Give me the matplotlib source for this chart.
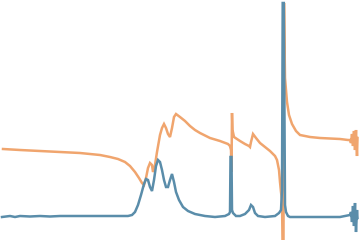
import numpy as np
import matplotlib
matplotlib.use('Agg')
from matplotlib import pyplot as plt

# orange curve (real-part-like), x position and height
re_x = [3, 20, 40, 60, 80, 100, 110, 118, 125, 130, 135, 139, 142, 144, 146,
        148, 150, 152, 153, 155, 157, 160, 162, 164, 166, 168, 170, 172, 174,
        176, 180, 185, 190, 195, 200, 210, 220, 228, 230, 231, 231.5, 232,
        232.5, 234, 240, 245, 249, 250, 251, 253, 256, 260, 265, 270, 275,
        277, 279, 280, 281, 282, 282.5, 283.5, 284, 285, 287, 289, 292, 296,
        300, 310, 320, 340, 348, 350, 351, 352, 353, 354, 355, 356, 357, 357.5]
re_y = [91, 90, 89, 88, 87, 85, 83, 81, 78, 74, 68, 62, 57, 55, 62,
        72, 77, 75, 68, 75, 88, 105, 112, 116, 112, 106, 103, 112, 123,
        126, 123, 119, 114, 110, 107, 102, 99, 96, 94, 90, 68, 127,
        110, 103, 99, 96, 94, 93, 98, 106, 102, 97, 93, 89, 84,
        80, 70, 58, 48, 40, 0, 0, 237, 162, 138, 125, 116, 109,
        105, 103, 102, 101, 100, 100, 97, 106, 94, 109, 90, 110, 84, 102]

# blue curve (imaginary-part-like)
im_x = [2, 10, 15, 20, 30, 40, 50, 60, 80, 100, 120, 128, 132, 135, 138,
        141, 144, 146, 148, 150, 152, 154, 156, 158, 160, 162, 164, 166, 168,
        170, 172, 174, 176, 179, 183, 188, 195, 205, 215, 225, 229, 230,
        230.5, 231.5, 232, 233, 236, 240, 245, 249, 251, 253, 255, 258, 265,
        275, 279, 281, 282, 282.7, 283.8, 285, 286, 288, 290, 300, 320, 340,
        345, 350, 351, 352, 353, 354, 355, 356, 357, 357.5]
im_y = [23, 24, 23, 24, 23.5, 24, 23.5, 24, 24, 24, 24, 24, 25, 28, 35,
        45, 56, 61, 60, 53, 49, 60, 74, 80, 78, 70, 60, 53, 53,
        60, 66, 58, 48, 40, 33, 29, 26, 24, 23, 24, 26, 28,
        83, 83, 30, 27, 24, 24, 26, 30, 35, 33, 27, 24, 23,
        24, 27, 30, 50, 237, 237, 35, 28, 24, 23, 23, 23, 23,
        24, 25, 28, 18, 34, 14, 37, 8, 30, 22]

fig = plt.figure(figsize=(3.6, 2.4), dpi=100)
ax = fig.add_axes([0, 0, 1, 1])
ax.plot(re_x, re_y, c='#F0A56E', lw=1.8, solid_joinstyle='miter')
ax.plot(im_x, im_y, c='#5A8DAA', lw=1.8, solid_joinstyle='miter')
ax.set_xlim(0, 360)
ax.set_ylim(0, 240)
ax.axis('off')
plt.savefig('out.png', dpi=100)
